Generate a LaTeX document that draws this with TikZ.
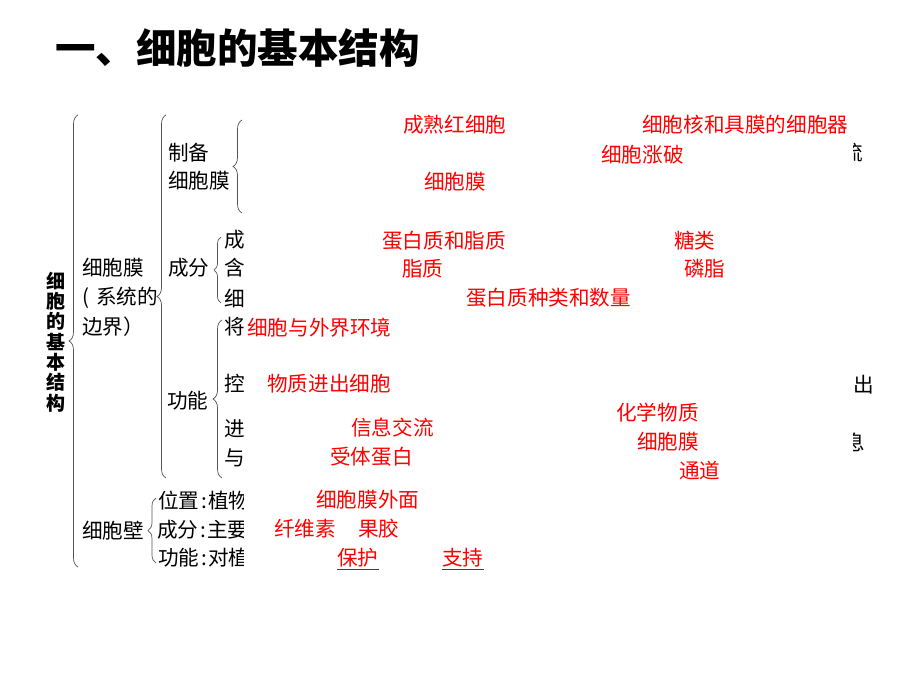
\documentclass[tikz,border=0pt]{standalone}
\usepackage{fontspec}
\setmainfont{Noto Sans CJK SC}
\usetikzlibrary{decorations.pathreplacing}
\definecolor{redtxt}{RGB}{255,0,0}
\definecolor{bracec}{RGB}{85,85,85}
\tikzset{
  body/.style={inner sep=0pt, anchor=west, font=\fontsize{20.6}{22}\selectfont, text=black},
  ans/.style={body, text=redtxt},
  brc/.style={draw=bracec, line width=0.7pt, decorate, decoration={brace, amplitude=#1}},
  uline/.style={draw=black!75, line width=1pt}
}
\begin{document}
\begin{tikzpicture}[x=1pt,y=-1pt]
\fill[white] (0,0) rectangle (920,690);
\useasboundingbox (0,0) rectangle (920,690);

% title
\node[anchor=west, inner sep=0pt, font=\bfseries\fontsize{40.5}{42}\selectfont] (title) at (55,48) {一、细胞的基本结构};

% vertical label
\node[inner sep=0pt, align=center, font=\bfseries\fontsize{19}{20.3}\selectfont] (vt) at (56,342) {细\\胞\\的\\基\\本\\结\\构};

% braces
\draw[brc=9pt] (78,567) -- (78,115);
\draw[brc=9pt] (166,478) -- (166,115);
\draw[brc=9pt] (242,213) -- (242,120);
\draw[brc=7pt] (221,303) -- (221,237);
\draw[brc=9pt] (222,478) -- (222,320);
\draw[brc=8pt] (156,563) -- (156,498);

% black labels
\node[body] (xbm) at (82,268) {细胞膜};
\node[body] (xt) at (82,298) {\makebox[14pt][l]{(}系统的};
\node[body] (bj) at (82,327) {边界）};
\node[body] (zb1) at (168,153) {制备};
\node[body] (zb2) at (168,181) {细胞膜};
\node[body] (cf) at (168,268) {成分};
\node[body] (gn) at (167,401) {功能};
\node[body] (c1) at (224,240) {成};
\node[body] (c2) at (224,268) {含};
\node[body] (c3) at (224,298) {细};
\node[body] (c4) at (224,327) {将};
\node[body] (c5) at (224,384) {控};
\node[body] (c6) at (224,429) {进};
\node[body] (c7) at (224,458) {与};
\node[body] (xbb) at (82,531) {细胞壁};
\begin{scope}
  \clip (0,0) rectangle (243,690);
  \node[body] (w1) at (158,501) {位置\makebox[9pt]{:}植物};
  \node[body] (w2) at (157,530) {成分\makebox[9pt]{:}主要};
  \node[body] (w3) at (158,558) {功能\makebox[9pt]{:}对植};
\end{scope}
\begin{scope}
  \clip (853,0) rectangle (920,690);
  \node[body] (r1) at (842,153) {流};
  \node[body] (r3) at (844,442) {息};
\end{scope}
\node[body] (r2) at (853,385) {出};

% red answers
\node[ans] (a1) at (403,125) {成熟红细胞};
\node[ans] (a2) at (642,125) {细胞核和具膜的细胞器};
\node[ans] (a3) at (601,155) {细胞涨破};
\node[ans] (a4) at (424,182) {细胞膜};
\node[ans] (a5) at (382,241) {蛋白质和脂质};
\node[ans] (a6) at (674,241) {糖类};
\node[ans] (a7) at (402,269) {脂质};
\node[ans] (a8) at (684,269) {磷脂};
\node[ans] (a9) at (466,298) {蛋白质种类和数量};
\node[ans] (a10) at (247,328) {细胞与外界环境};
\node[ans] (a11) at (267,384) {物质进出细胞};
\node[ans] (a12) at (616,413) {化学物质};
\node[ans] (a13) at (351,428) {信息交流};
\node[ans] (a14) at (637,442) {细胞膜};
\node[ans] (a15) at (330,457) {受体蛋白};
\node[ans] (a16) at (679,471) {通道};
\node[ans] (a17) at (316,500) {细胞膜外面};
\node[ans] (a18) at (274,529) {纤维素};
\node[ans] (a19) at (358,529) {果胶};
\node[ans] (a20) at (337,558) {保护};
\node[ans] (a21) at (442,558) {支持};
\draw[uline] ([yshift=-2pt]a20.south west) -- ([yshift=-2pt]a20.south east);
\draw[uline] ([yshift=-2pt]a21.south west) -- ([yshift=-2pt]a21.south east);
\end{tikzpicture}
\end{document}
